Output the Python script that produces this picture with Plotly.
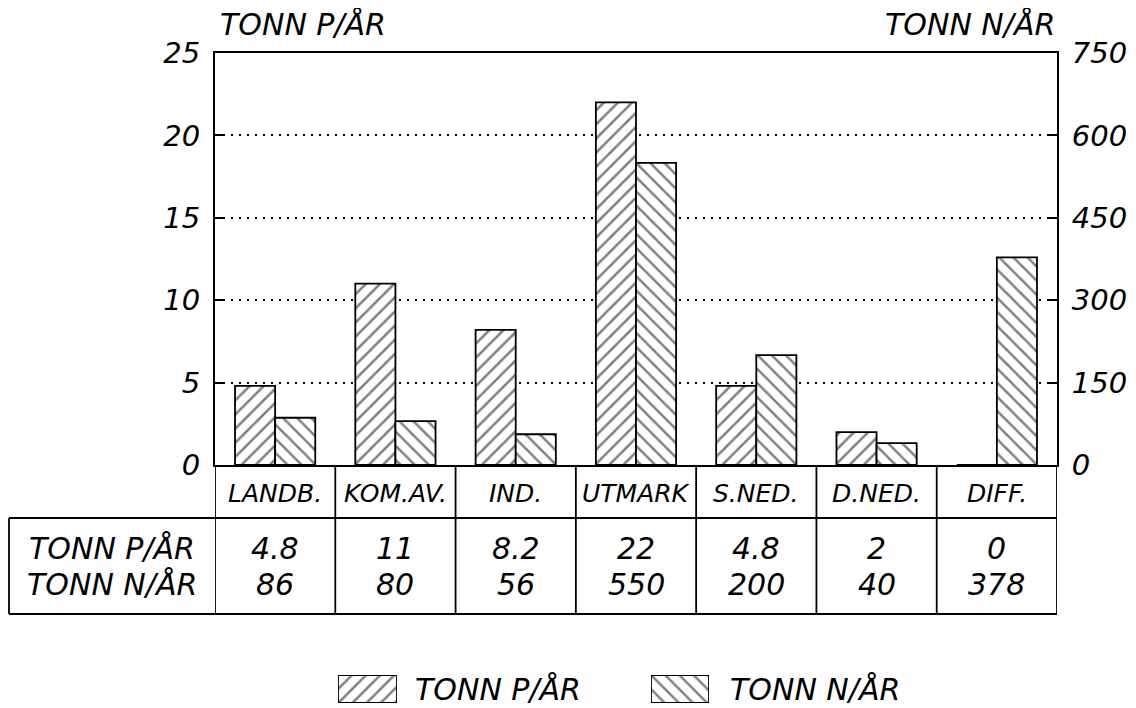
import plotly.graph_objects as go

categories = ["LANDB.", "KOM.AV.", "IND.", "UTMARK", "S.NED.", "D.NED.", "DIFF."]
p_values = [4.8, 11, 8.2, 22, 4.8, 2, 0]
n_values = [86, 80, 56, 550, 200, 40, 378]
p_labels = ["4.8", "11", "8.2", "22", "4.8", "2", "0"]
n_labels = ["86", "80", "56", "550", "200", "40", "378"]
p_name = "TONN P/ÅR"
n_name = "TONN N/ÅR"
left_ticks = [0, 5, 10, 15, 20, 25]
right_ticks = [0, 150, 300, 450, 600, 750]

FONT = "DejaVu Sans"
# page body has an 8px margin, so the figure is drawn 8px right/down in the window
W, H = 1128, 700
PL, PR, PT, PB = 207, 1049, 45, 457   # plot box in figure pixels


def px(x):
    return x / W


def py(y):
    return (H - y) / H


xs = list(range(len(categories)))
hatch = dict(fgcolor="black", bgcolor="white", size=10, solidity=0.25)
edge = dict(color="black", width=1.8)

fig = go.Figure()
fig.add_trace(go.Bar(
    x=xs, y=p_values, name=p_name, offsetgroup="p", xaxis="x", yaxis="y",
    marker=dict(color="white", line=edge, pattern=dict(shape="/", **hatch)),
    showlegend=False,
))
fig.add_trace(go.Bar(
    x=xs, y=n_values, name=n_name, offsetgroup="n", xaxis="x", yaxis="y2",
    marker=dict(color="white", line=edge, pattern=dict(shape="\\", **hatch)),
    showlegend=False,
))
# legend swatches (drawn as bars in small helper axes)
fig.add_trace(go.Bar(x=[0], y=[1], width=[1], xaxis="x3", yaxis="y3", showlegend=False,
                     hoverinfo="skip",
                     marker=dict(color="white", line=edge, pattern=dict(shape="/", **hatch))))
fig.add_trace(go.Bar(x=[0], y=[1], width=[1], xaxis="x4", yaxis="y4", showlegend=False,
                     hoverinfo="skip",
                     marker=dict(color="white", line=edge, pattern=dict(shape="\\", **hatch))))

tickfont = dict(family=FONT, size=29, color="black", style="italic")
hidden = dict(visible=False, fixedrange=True)
fig.update_layout(
    width=W, height=H,
    margin=dict(l=0, r=0, t=0, b=0),
    paper_bgcolor="white", plot_bgcolor="white",
    barmode="group", bargap=0.333, bargroupgap=0,
    xaxis=dict(domain=[px(PL), px(PR)], range=[-0.5, len(categories) - 0.5],
               showticklabels=False, ticks="", showgrid=False, zeroline=False,
               showline=True, mirror=True, linecolor="black", linewidth=2, anchor="y"),
    yaxis=dict(domain=[py(PB), py(PT)], range=[0, 25], tickvals=left_ticks,
               ticktext=[str(v) for v in left_ticks], automargin=False,
               tickfont=tickfont, ticks="inside", ticklen=9, tickwidth=2, tickcolor="black",
               showgrid=True, gridcolor="black", griddash="2px,6px", gridwidth=2,
               zeroline=False, showline=True, linecolor="black", linewidth=2,
               ticklabelstandoff=7, anchor="x"),
    yaxis2=dict(range=[0, 750], tickvals=right_ticks, ticktext=[str(v) for v in right_ticks],
                overlaying="y", side="right", tickfont=tickfont, ticks="inside", ticklen=9,
                tickwidth=2, tickcolor="black", showgrid=False, zeroline=False, showline=True,
                linecolor="black", linewidth=2, ticklabelstandoff=7, automargin=False, anchor="x"),
    xaxis3=dict(domain=[px(330), px(389)], range=[-0.5, 0.5], anchor="y3", **hidden),
    yaxis3=dict(domain=[py(695), py(667)], range=[0, 1], anchor="x3", **hidden),
    xaxis4=dict(domain=[px(643), px(701)], range=[-0.5, 0.5], anchor="y4", **hidden),
    yaxis4=dict(domain=[py(695), py(667)], range=[0, 1], anchor="x4", **hidden),
    showlegend=False,
)

big = dict(family=FONT, size=30, color="black", style="italic")
catfont = dict(family=FONT, size=25, color="black", style="italic")

# axis titles
fig.add_annotation(text=p_name, xref="paper", yref="paper", x=px(210), y=py(17),
                   xanchor="left", yanchor="middle", showarrow=False, font=big)
fig.add_annotation(text=n_name, xref="paper", yref="paper", x=px(PR), y=py(17),
                   xanchor="right", yanchor="middle", showarrow=False, font=big)

# table lines
line = dict(color="black", width=1.8)
y_cat = 510
y_bot = 606
x_left = 1
fig.add_shape(type="line", xref="paper", yref="paper", x0=px(x_left), x1=px(PR),
              y0=py(y_cat), y1=py(y_cat), line=line)
fig.add_shape(type="line", xref="paper", yref="paper", x0=px(x_left), x1=px(PR),
              y0=py(y_bot), y1=py(y_bot), line=line)
fig.add_shape(type="line", xref="paper", yref="paper", x0=px(x_left), x1=px(x_left),
              y0=py(y_cat), y1=py(y_bot), line=line)
for k in range(len(categories) + 1):
    xb = k - 0.5
    fig.add_shape(type="line", xref="x", yref="paper", x0=xb, x1=xb,
                  y0=py(PB), y1=py(y_bot), line=line)

for i, c in enumerate(categories):
    fig.add_annotation(text=c, xref="x", yref="paper", x=i, y=py(485), showarrow=False,
                       xanchor="center", yanchor="middle", font=catfont)
    fig.add_annotation(text=p_labels[i], xref="x", yref="paper", x=i, y=py(540), showarrow=False,
                       xanchor="center", yanchor="middle", font=big)
    fig.add_annotation(text=n_labels[i], xref="x", yref="paper", x=i, y=py(576), showarrow=False,
                       xanchor="center", yanchor="middle", font=big)

fig.add_annotation(text=p_name, xref="paper", yref="paper", x=px(104), y=py(540), showarrow=False,
                   xanchor="center", yanchor="middle", font=big)
fig.add_annotation(text=n_name, xref="paper", yref="paper", x=px(104), y=py(576), showarrow=False,
                   xanchor="center", yanchor="middle", font=big)

# legend texts
fig.add_annotation(text=p_name, xref="paper", yref="paper", x=px(405), y=py(681), showarrow=False,
                   xanchor="left", yanchor="middle", font=big)
fig.add_annotation(text=n_name, xref="paper", yref="paper", x=px(720), y=py(681), showarrow=False,
                   xanchor="left", yanchor="middle", font=big)

fig.write_html("out.html")
